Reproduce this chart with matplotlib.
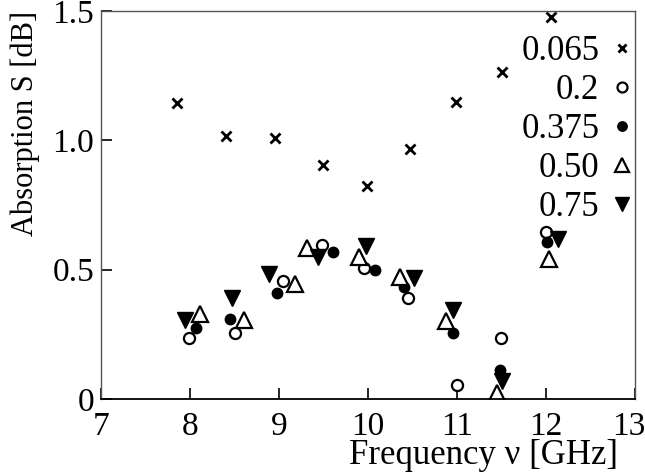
import numpy as np
import matplotlib
matplotlib.use("Agg")
import matplotlib.pyplot as plt
from matplotlib.transforms import ScaledTranslation

plt.rcParams['font.family'] = ['Liberation Serif', 'DejaVu Serif']

# x = 0.065
f_065 = [7.85, 8.41, 8.96, 9.49, 9.985, 10.47, 10.99, 11.51, 12.06]
s_065 = [1.143, 1.017, 1.008, 0.904, 0.824, 0.965, 1.149, 1.265, 1.478]

# x = 0.2
f_02 = [7.99, 8.51, 9.04, 9.48, 9.95, 10.45, 11.0, 11.49, 12.0]
s_02 = [0.235, 0.254, 0.457, 0.595, 0.505, 0.389, 0.054, 0.235, 0.647]

# x = 0.375
f_0375 = [8.07, 8.45, 8.98, 9.61, 10.08, 10.41, 10.95, 11.48, 12.01]
s_0375 = [0.276, 0.309, 0.411, 0.567, 0.499, 0.432, 0.254, 0.112, 0.608]

# x = 0.50
f_050 = [8.11, 8.61, 9.18, 9.31, 9.90, 10.36, 10.88, 11.45, 12.03]
s_050 = [0.33, 0.305, 0.445, 0.585, 0.55, 0.472, 0.30, 0.022, 0.543]

# x = 0.75
f_075 = [7.94, 8.47, 8.89, 9.44, 9.98, 10.52, 10.96, 11.50, 12.14]
s_075 = [0.305, 0.39, 0.485, 0.55, 0.592, 0.466, 0.343, 0.07, 0.62]

x_ticks = [7, 8, 9, 10, 11, 12, 13]
y_ticks = [0, 0.5, 1.0, 1.5]
y_tick_labels = ['0', '0.5', '1.0', '1.5']

fig = plt.figure(figsize=(6.45, 4.76), dpi=100)
ax = fig.add_axes([101 / 645, 1 - 399 / 476, 534 / 645, 388 / 476])

ax.plot(f_065, s_065, 'x', color='black', ms=7, mew=2, label='0.065')
ax.plot(f_02, s_02, 'o', mfc='white', mec='black', ms=8, mew=1.6, label='0.2')
ax.plot(f_0375, s_0375, 'o', color='black', ms=7.5, label='0.375')
ax.plot(f_050, s_050, '^', mfc='white', mec='black', ms=11, mew=1.6, label='0.50')
ax.plot(f_075, s_075, 'v', color='black', ms=11, label='0.75')

ax.set_xlim(7, 13)
ax.set_ylim(0, 1.5)
ax.set_xticks(x_ticks)
ax.set_yticks(y_ticks)
ax.set_yticklabels(y_tick_labels)
ax.tick_params(direction='in', length=8, width=1.2, labelsize=24, top=False, right=False)
ax.tick_params(axis='x', pad=9)
ax.tick_params(axis='y', pad=5)
for sp in ax.spines.values():
    sp.set_color('#555555')
    sp.set_linewidth(1.0)
ax.spines['bottom'].set_color('black')
ax.spines['bottom'].set_linewidth(1.3)

# keep "13" inside the picture
last = ax.get_xticklabels()[-1]
last.set_transform(last.get_transform() + ScaledTranslation(-6 / 100, 0, fig.dpi_scale_trans))

ax.set_xlabel('Frequency ν [GHz]', fontsize=25, loc='right', labelpad=-2)
ax.xaxis.label.set_x(0.968)
ax.set_ylabel('Absorption S [dB]', fontsize=22, loc='top', labelpad=9)

leg = ax.legend(loc='upper right', frameon=False, markerfirst=False, fontsize=25,
                handletextpad=0.35, labelspacing=0.17, borderaxespad=0.0,
                borderpad=0.2, handlelength=0.6, markerscale=0.9,
                bbox_to_anchor=(1.008, 0.955))
for t in leg.get_texts():
    t.set_ha('right')

fig.savefig('out.png', dpi=100)
